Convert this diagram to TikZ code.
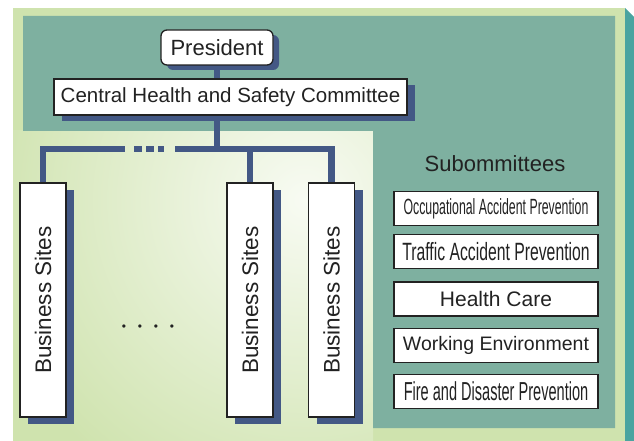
\documentclass[tikz,border=0pt]{standalone}
\usepackage{fontspec}
\setmainfont{Liberation Sans}
\newfontfamily\narrowsans[FakeStretch=0.56]{Liberation Sans}
\newfontfamily\semisans[FakeStretch=0.63]{Liberation Sans}
\usetikzlibrary{shadows}
\usetikzlibrary{positioning}

\definecolor{navy}{RGB}{67,88,133}
\definecolor{panel}{RGB}{126,176,160}
\definecolor{paleleaf}{RGB}{207,227,174}
\definecolor{edgeteal}{RGB}{74,164,160}
\definecolor{ink}{RGB}{34,34,34}

\begin{document}
\begin{tikzpicture}[x=1pt,y=-1pt,
        box/.style={draw=ink,line width=1.3pt,fill=white,inner sep=0pt,text=ink},
        shade box/.style 2 args={drop shadow={shadow xshift=#1,shadow yshift=#2,
            fill=navy,opacity=1}},
        site/.style={box,shade box={8pt}{-7pt},minimum width=46,minimum height=234,
            font=\fontsize{22.5}{22}\selectfont},
        sub/.style={box,minimum width=204,minimum height=34},
        bus/.style={draw=navy,line width=6.5pt,line join=miter},
    ]
        \useasboundingbox (0,0) rectangle (634,441);

        % background
        \fill[paleleaf] (13,8) rectangle (625,441);
        \fill[edgeteal] (625,8) -- (634,17) -- (634,441) -- (625,441) -- cycle;
        \begin{scope}
            \clip (13,131) rectangle (373,441);
            \shade[inner color=white!85!paleleaf,outer color=paleleaf]
                (305,200) circle (330);
        \end{scope}
        \fill[panel] (23,16) -- (615,16) -- (615,428) -- (373,428)
            -- (373,131) -- (23,131) -- cycle;

        % top
        \node (pres) at (217,47.5) [box,rounded corners=6pt,shade box={6pt}{-5pt},
            minimum width=112,minimum height=35,font=\fontsize{22}{22}\selectfont]
            {President};
        \node (ctte) at (230.5,97) [box,shade box={8pt}{-6pt},
            minimum width=353,minimum height=36,font=\fontsize{20.5}{22}\selectfont]
            {Central Health and Safety Committee};

        % business sites
        \node (site1) at (43,300)    [site] {\rotatebox{90}{Business Sites}};
        \node (site2) at (250,300)   [site] {\rotatebox{90}{Business Sites}};
        \node (site3) at (331.5,300) [site] {\rotatebox{90}{Business Sites}};
        \node (dots)  at (148,328) [text=ink,font=\fontsize{12}{12}\selectfont]
            {\textbullet\hspace{11.8pt}\textbullet\hspace{11.8pt}%
             \textbullet\hspace{11.8pt}\textbullet};

        \coordinate (gapl) at (125,149);
        \coordinate (gapr) at (175,149);

        \draw[bus] (pres.south) -- (pres.south |- ctte.north);
        \draw[bus] (ctte.south -| pres.south) -- (pres.south |- gapr);
        \draw[bus] (site1.north) |- (gapl);
        \draw[bus] (gapr) -| (site3.north);
        \draw[bus] (site2.north) -- (site2.north |- gapr);
        \draw[bus,dash pattern=on 8pt off 4pt,shorten <=9pt,shorten >=11pt]
            (gapl) -- (gapr);

        % subcommittees
        \node (subtitle) at (495,164) [text=ink,font=\fontsize{22}{22}\selectfont]
            {Subommittees};
        \node (occ)  at (496,208.5) [sub,font=\narrowsans\fontsize{22}{22}\selectfont]
            {Occupational Accident Prevention};
        \node (traf) at (496,251.5) [sub,font=\semisans\fontsize{25}{25}\selectfont]
            {Traffic Accident Prevention};
        \node (care) at (496,299)   [sub,font=\fontsize{21}{22}\selectfont]
            {Health Care};
        \node (work) at (496,345.5) [sub,font=\fontsize{19.5}{22}\selectfont]
            {Working Environment};
        \node (fire) at (496,391.5) [sub,font=\narrowsans\fontsize{26}{26}\selectfont]
            {Fire and Disaster Prevention};
    \end{tikzpicture}
\end{document}
